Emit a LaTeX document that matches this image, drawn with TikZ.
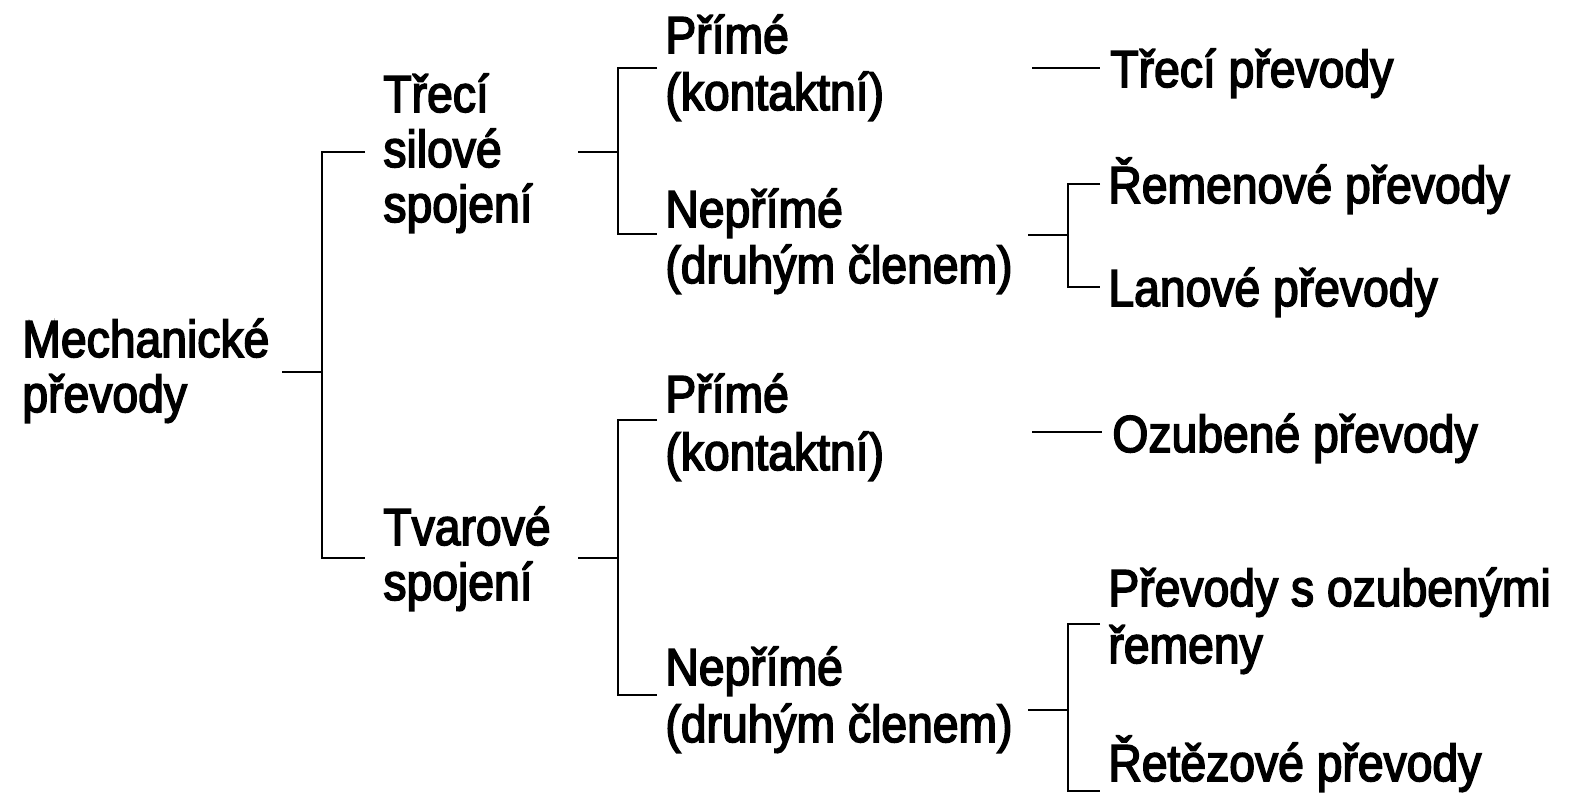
\documentclass[tikz,border=0pt]{standalone}
\usepackage{fontspec}
\setmainfont{Liberation Sans}[FakeStretch=0.89,FakeBold=3]
\begin{document}
\begin{tikzpicture}[x=0.5pt,y=-0.5pt,
  txt/.style={anchor=base west, inner sep=0pt, font=\fontsize{26}{28}\selectfont},
  conn/.style={line width=1.4pt}]
\useasboundingbox (0,0) rectangle (1576,803);
% level 0
\node[txt] (r1) at (22,357) {Mechanické};
\node[txt] (r2) at (22,412) {převody};
% level 1
\node[txt] (a1) at (383,112) {Třecí};
\node[txt] (a2) at (383,167) {silové};
\node[txt] (a3) at (383,222) {spojení};
\node[txt] (b1) at (383,545) {Tvarové};
\node[txt] (b2) at (383,600) {spojení};
% level 2
\node[txt] (c1) at (665,53) {Přímé};
\node[txt] (c2) at (665,110) {(kontaktní)};
\node[txt] (d1) at (665,227) {Nepřímé};
\node[txt] (d2) at (665,283) {(druhým členem)};
\node[txt] (e1) at (665,412) {Přímé};
\node[txt] (e2) at (665,470) {(kontaktní)};
\node[txt] (f1) at (665,685) {Nepřímé};
\node[txt] (f2) at (665,742) {(druhým členem)};
% level 3
\node[txt] (g) at (1110,87) {Třecí převody};
\node[txt] (h1) at (1108,203) {Řemenové převody};
\node[txt] (h2) at (1108,306) {Lanové převody};
\node[txt] (i) at (1112,452) {Ozubené převody};
\node[txt] (j1) at (1108,606) {Převody s ozubenými};
\node[txt] (j2) at (1108,663) {řemeny};
\node[txt] (k) at (1108,781) {Řetězové převody};
% root bracket
\coordinate (r-o) at (282,372); \coordinate (r-j) at (322,372);
\coordinate (r-t) at (365,152); \coordinate (r-b) at (365,558);
\draw[conn] (r-o) -- (r-j);
\draw[conn] (r-t) -| (r-j) |- (r-b);
% Trecí bracket
\coordinate (a-o) at (578,152); \coordinate (a-j) at (618,152);
\coordinate (a-t) at (657,68); \coordinate (a-b) at (657,234);
\draw[conn] (a-o) -- (a-j);
\draw[conn] (a-t) -| (a-j) |- (a-b);
% Tvarové bracket
\coordinate (b-o) at (578,558); \coordinate (b-j) at (618,558);
\coordinate (b-t) at (657,420); \coordinate (b-b) at (657,695);
\draw[conn] (b-o) -- (b-j);
\draw[conn] (b-t) -| (b-j) |- (b-b);
% single lines
\coordinate (c-o) at (1032,68); \coordinate (c-e) at (1100,68);
\draw[conn] (c-o) -- (c-e);
\coordinate (e-o) at (1032,432); \coordinate (e-e) at (1102,432);
\draw[conn] (e-o) -- (e-e);
% Neprímé brackets
\coordinate (d-o) at (1028,235); \coordinate (d-j) at (1068,235);
\coordinate (d-t) at (1100,184); \coordinate (d-b) at (1100,287);
\draw[conn] (d-o) -- (d-j);
\draw[conn] (d-t) -| (d-j) |- (d-b);
\coordinate (f-o) at (1028,710); \coordinate (f-j) at (1068,710);
\coordinate (f-t) at (1100,624); \coordinate (f-b) at (1100,791);
\draw[conn] (f-o) -- (f-j);
\draw[conn] (f-t) -| (f-j) |- (f-b);
\end{tikzpicture}
\end{document}
